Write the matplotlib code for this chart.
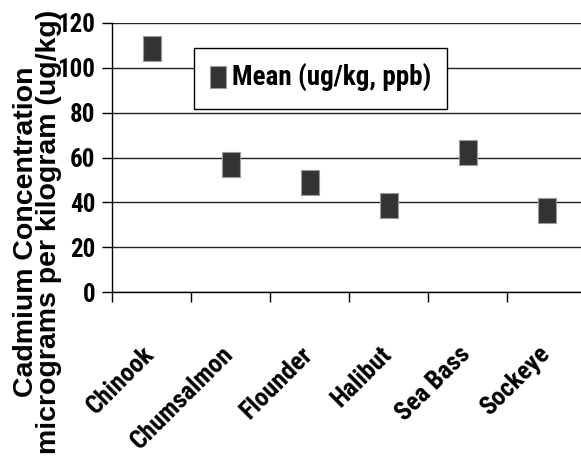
import matplotlib
matplotlib.use("Agg")
import matplotlib.pyplot as plt
from matplotlib.path import Path
from matplotlib import transforms

categories = ["Chinook", "Chumsalmon", "Flounder", "Halibut", "Sea Bass", "Sockeye"]
mean_values = [108.7, 57.2, 48.9, 38.9, 62.3, 36.8]
series_name = "Mean (ug/kg, ppb)"
yticks = [0, 20, 40, 60, 80, 100, 120]

narrow = ["Roboto Condensed", "Liberation Sans Narrow", "Liberation Sans"]
wide = ["Liberation Sans"]

fig = plt.figure(figsize=(5.81, 4.59), dpi=100)
ax = fig.add_axes([112/581, 167/459, (586-112)/581, 269/459])

rect = Path([(-0.37, -0.5), (0.37, -0.5), (0.37, 0.5), (-0.37, 0.5), (-0.37, -0.5)],
            [Path.MOVETO, Path.LINETO, Path.LINETO, Path.LINETO, Path.CLOSEPOLY])
xs = list(range(len(categories)))
ax.plot(xs, mean_values, linestyle="none", marker=rect, markersize=18,
        markerfacecolor="#333333", markeredgecolor="#9a9a9a", markeredgewidth=0.8,
        label=series_name, zorder=3, clip_on=False)

ax.set_xlim(-0.5, len(categories) - 0.5)
ax.set_ylim(0, 120)
ax.set_yticks(yticks)
ax.yaxis.grid(True, color="#222222", linewidth=1.0)
ax.set_axisbelow(True)
for s in ["top", "right"]:
    ax.spines[s].set_visible(False)
for s in ["left", "bottom"]:
    ax.spines[s].set_color("black")
    ax.spines[s].set_linewidth(1.0)

ax.set_xticks([i - 0.5 for i in range(len(categories) + 1)])
ax.set_xticklabels([])
ax.tick_params(axis="x", which="major", length=7, width=1, direction="out")
ax.tick_params(axis="y", length=7, width=1, direction="out", pad=5)
for lbl in ax.get_yticklabels():
    lbl.set_fontsize(18)
    lbl.set_fontweight("bold")
    lbl.set_family(narrow)

# category labels below the axis
base = transforms.blended_transform_factory(ax.transData, ax.transAxes)
lab_tr = transforms.offset_copy(base, fig=fig, x=-9, y=-50, units="dots")
for x, name in zip(xs, categories):
    ax.text(x, 0, name, transform=lab_tr, rotation=45, ha="right", va="top",
            rotation_mode="anchor", fontsize=18.5, fontweight="bold", family=narrow,
            clip_on=False)

fig.text(38/581, 1 - 232/459, "Cadmium Concentration\nmicrograms per kilogram (ug/kg)",
         rotation=90, ha="center", va="center", multialignment="center",
         fontsize=20.5, fontweight="bold", family=wide, linespacing=0.85)

leg = ax.legend(loc="upper left", bbox_to_anchor=((194-112)/474, 1 - (48-23)/269),
                borderaxespad=0, frameon=True, fancybox=False, edgecolor="black",
                framealpha=1, prop={"family": narrow, "weight": "bold", "size": 19.5},
                handletextpad=0.25, borderpad=0.6, handlelength=0.55, markerscale=0.85)
leg.get_frame().set_linewidth(1.0)

fig.savefig("out.png", dpi=100)
